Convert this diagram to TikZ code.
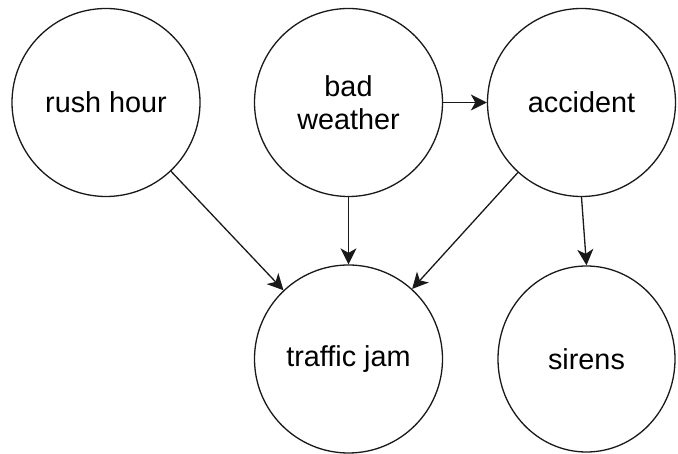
\documentclass[tikz,border=0pt]{standalone}
\usepackage{fontspec}
\setmainfont{Liberation Sans}
\usetikzlibrary{arrows.meta,shapes.geometric}
\begin{document}
\begin{tikzpicture}[x=1pt,y=-1pt,
  var/.style={draw=black!90, line width=1.3pt, ellipse, inner sep=0pt,
    minimum width=188pt, minimum height=188pt, align=center,
    font=\fontsize{28.8}{33}\selectfont},
  edge/.style={draw=black!90, line width=1.3pt,
    -{Stealth[length=16pt,width=16pt,inset=4.5pt]}}]
\useasboundingbox (0,0) rectangle (678,454);
\node[var] (rush) at (106,102.5) {rush hour};
\node[var] (bad) at (348.5,102.5) {bad\\weather};
\node[var] (acc) at (581.5,102.5) {accident};
\node[var] (jam) at (348.5,359) {traffic jam};
\node[var, minimum width=177pt, minimum height=186pt] (sir) at (586.5,359) {sirens};
\draw[edge] (rush) -- (jam);
\draw[edge] (bad) -- (jam);
\draw[edge, line width=1.6pt] (bad) -- (acc);
\draw[edge] (acc) -- (jam);
\draw[edge] (acc.south) -- (sir.north);
\end{tikzpicture}
\end{document}
